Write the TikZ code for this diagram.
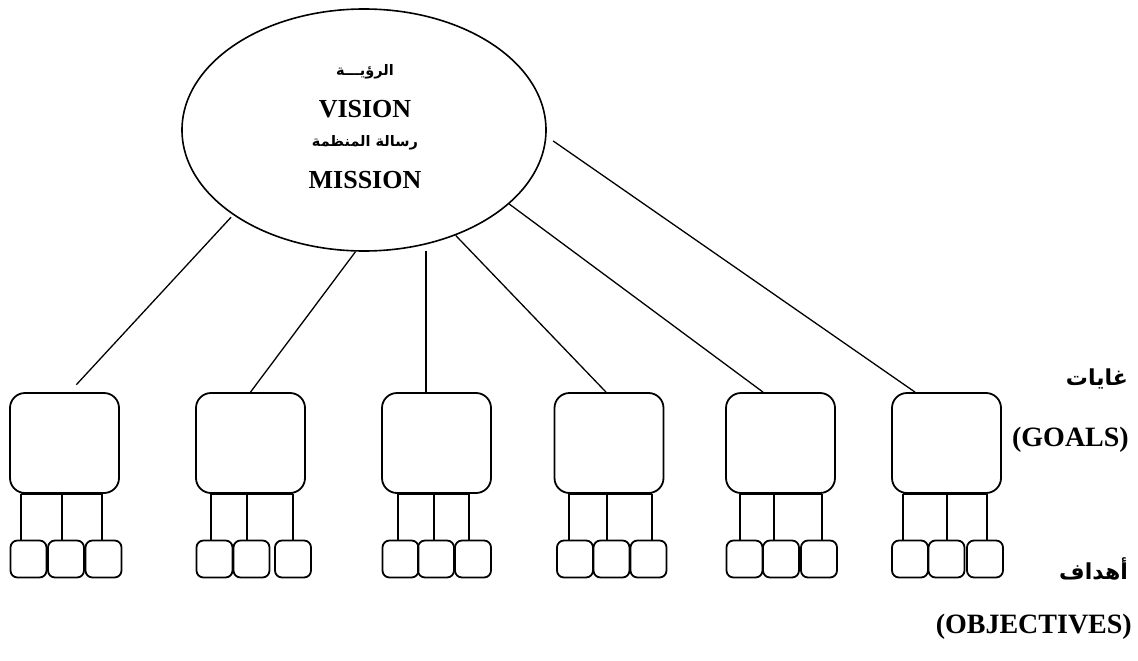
\documentclass[tikz,border=0pt]{standalone}
\usepackage{fontspec}
\setmainfont{Liberation Serif}
\newfontfamily\arabicfont[Script=Arabic]{DejaVu Sans}
\TeXXeTstate=1
\usetikzlibrary{shapes.geometric}
\begin{document}
\begin{tikzpicture}[x=1pt,y=-1pt,
  link/.style={line width=1.3pt},
  oval/.style={draw,ellipse,line width=1.6pt,minimum width=364pt,minimum height=242pt,inner sep=0pt},
  goal/.style={draw,rounded corners=15pt,line width=1.8pt,minimum width=109pt,minimum height=100pt,inner sep=0pt},
  obj/.style={draw,rounded corners=7pt,line width=1.8pt,minimum width=36pt,minimum height=37pt,inner sep=0pt},
  fork/.style={line width=1.8pt},
  lat/.style={font=\fontsize{26}{30}\selectfont\bfseries},
  sidelat/.style={font=\fontsize{28}{32}\selectfont\bfseries, anchor=east, inner sep=0pt},
  arb/.style={font=\arabicfont\bfseries\fontsize{14.5}{18}\selectfont},
  side/.style={font=\arabicfont\bfseries\fontsize{22}{26}\selectfont, anchor=east, inner sep=0pt}]
\useasboundingbox (0,0) rectangle (1138,661);

% central vision / mission oval
\node[oval] (vision) at (364,130) {};
\node[arb] (t1) at (365,72) {\beginR الرؤيـــة\endR};
\node[lat] (t2) at (365,109) {VISION};
\node[arb] (t3) at (365,143) {\beginR رسالة المنظمة\endR};
\node[lat] (t4) at (365,180) {MISSION};

% goal boxes
\node[goal] (g1) at (64.5,443) {};
\node[goal] (g2) at (250.5,443) {};
\node[goal] (g3) at (436.5,443) {};
\node[goal] (g4) at (609,443) {};
\node[goal] (g5) at (780.5,443) {};
\node[goal] (g6) at (946.5,443) {};

% objective boxes
\foreach \g/\a/\b/\c in {1/28.5/66/103.5, 2/214.5/251.5/293, 3/400.5/436/473,
                          4/575/611.5/648.5, 5/744.5/781/819, 6/910/946.5/985}{
  \node[obj] (o\g a) at (\a,559) {};
  \node[obj] (o\g b) at (\b,559) {};
  \node[obj] (o\g c) at (\c,559) {};
}

% forks from each goal down to its objectives
\foreach \g/\p/\q/\r in {1/21/62/102, 2/211/247/293, 3/398/434/469,
                         4/569/607/652, 5/740/774/822, 6/903/947/987}{
  \draw[fork] (g\g.south -| \p,0) -- (g\g.south -| \r,0);
  \draw[link] (g\g.south -| \p,0) -- (o\g a.north -| \p,0);
  \draw[link] (g\g.south -| \q,0) -- (o\g b.north -| \q,0);
  \draw[link] (g\g.south -| \r,0) -- (o\g c.north -| \r,0);
}

% connectors from the oval to the goals
\draw[link,shorten <=3pt,shorten >=10pt] (vision.-147) -- ([xshift=5pt]g1.north);
\draw[link] (vision.-94) -- (g2.north);
\coordinate (c3) at (426,251);
\draw[link] (c3) -- (c3 |- g3.north);
\draw[link] (vision.-49) -- ([xshift=-3pt]g4.north);
\draw[link] (vision.-27) -- ([xshift=-17.5pt]g5.north);
\draw[link,shorten <=8pt] (vision.-2.4) -- ([xshift=-31.5pt]g6.north);

% side labels
\node[side] (goalsar) at (1128,379) {\beginR غايات\endR};
\node[sidelat] (goals) at (1129,440) {(GOALS)};
\node[side] (objar) at (1128,569) {\beginR أهداف\endR};
\node[sidelat] (objs) at (1132,627) {(OBJECTIVES)};
\end{tikzpicture}
\end{document}
